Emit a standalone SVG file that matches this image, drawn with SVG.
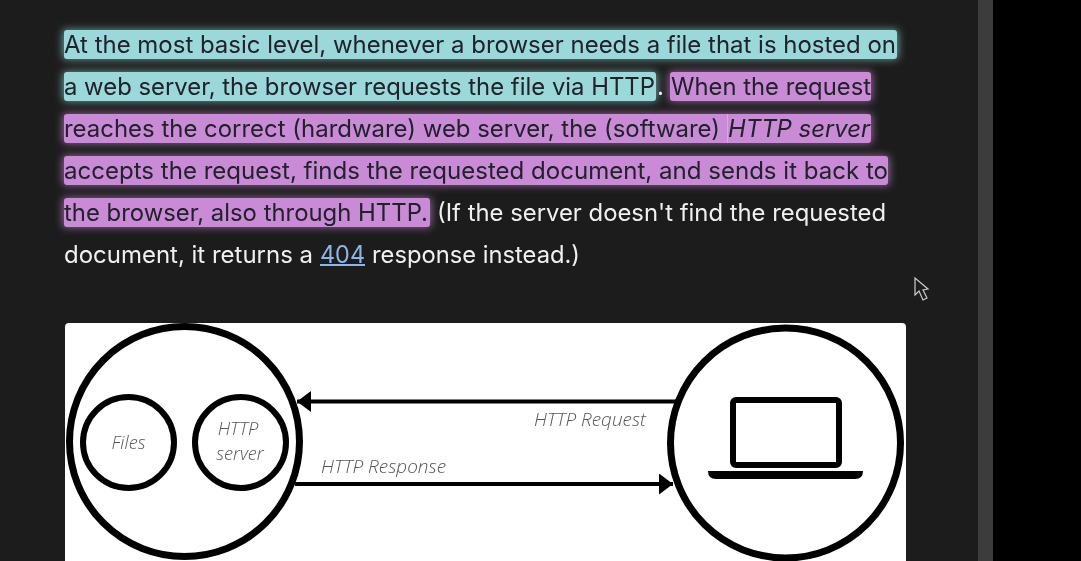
<svg xmlns="http://www.w3.org/2000/svg" width="1081" height="561" viewBox="0 0 1081 561">
<style>
.t{font-family:Inter,"Noto Sans","Liberation Sans",sans-serif;font-size:24px}
.d{fill:#20202c}
.w{fill:#f0f0f0}
.b{fill:#9bd8da}
.p{fill:#ca8bd6}
.ln{fill:none;stroke:#000;stroke-width:7}
.sm{fill:none;stroke:#000;stroke-width:6}
.c{stroke:#000;stroke-width:4;fill:none}
.l{font-family:"Open Sans","Noto Sans",sans-serif;font-style:italic;font-weight:300;font-size:18.300px;fill:#555}
</style>
<defs>
<filter id="glow" x="-5%" y="-60%" width="110%" height="220%"><feGaussianBlur stdDeviation="4.500"/></filter>
<filter id="soft" x="-2%" y="-5%" width="104%" height="110%"><feGaussianBlur stdDeviation="0.500"/></filter>
<filter id="soft2" x="-2%" y="-5%" width="104%" height="110%"><feGaussianBlur stdDeviation="0.400"/></filter>
<marker id="ah" markerUnits="userSpaceOnUse" markerWidth="15" markerHeight="21" refX="14" refY="10.500" orient="auto"><path d="M0 0L14 10.500L0 21Z" fill="#000"/></marker>
</defs>
<rect width="1081" height="561" fill="#1c1c1c"/>
<rect x="978" width="15" height="561" fill="#3c3c3c"/>
<rect x="993" width="88" height="561" fill="#000"/>
<g id="highlights">
<g filter="url(#glow)" opacity=".7">
<rect class="b" x="63" y="30" width="835" height="29"/><rect class="b" x="63" y="72" width="594" height="29"/>
<rect class="p" x="669" y="72" width="203" height="29"/><rect class="p" x="63" y="114" width="809" height="29"/>
<rect class="p" x="63" y="156" width="826" height="29"/><rect class="p" x="63" y="198" width="368" height="29"/>
</g>
<g filter="url(#soft2)">
<rect class="b" x="64" y="30" width="833" height="29" rx="3"/><rect class="b" x="64" y="72" width="592" height="29" rx="3"/>
<rect class="p" x="670" y="72" width="201" height="29" rx="3"/><rect class="p" x="64" y="114" width="807" height="29" rx="3"/>
<rect x="727" y="114" width="1" height="29" fill="#dca6e4"/>
<rect class="p" x="64" y="156" width="824" height="29" rx="3"/><rect class="p" x="64" y="198" width="366" height="29" rx="3"/>
</g>
</g>
<g id="paragraph" filter="url(#soft)">
<text class="t d" x="64" y="53" textLength="832" lengthAdjust="spacingAndGlyphs">At the most basic level, whenever a browser needs a file that is hosted on</text>
<text class="t d" x="64" y="95" textLength="591" lengthAdjust="spacingAndGlyphs">a web server, the browser requests the file via HTTP</text>
<text class="t w" x="657" y="95">.</text>
<text class="t d" x="671" y="95" textLength="200" lengthAdjust="spacingAndGlyphs">When the request</text>
<text class="t d" x="64" y="137" textLength="656" lengthAdjust="spacingAndGlyphs">reaches the correct (hardware) web server, the (software)</text>
<text class="t d" x="728" y="137" font-style="italic" textLength="142" lengthAdjust="spacingAndGlyphs">HTTP server</text>
<text class="t d" x="64" y="179" textLength="824" lengthAdjust="spacingAndGlyphs">accepts the request, finds the requested document, and sends it back to</text>
<text class="t d" x="64" y="221" textLength="364" lengthAdjust="spacingAndGlyphs">the browser, also through HTTP.</text>
<text class="t w" x="437" y="221" textLength="449" lengthAdjust="spacingAndGlyphs">(If the server doesn't find the requested</text>
<text class="t w" x="64" y="263" textLength="249" lengthAdjust="spacingAndGlyphs">document, it returns a</text>
<text class="t" fill="#8fb4e8" x="320" y="263" textLength="45" lengthAdjust="spacingAndGlyphs">404</text>
<rect x="320" y="264" width="45" height="2" fill="#8fb4e8"/>
<text class="t w" x="372" y="263" textLength="208" lengthAdjust="spacingAndGlyphs">response instead.)</text>
</g>
<path id="cursor" d="M915 278L915 295L919 291L923 300L927 298L923 290L928 289Z" fill="#1c1c1c" stroke="#ccc" stroke-width="1.200"/>
<rect id="panel" x="65" y="323" width="841" height="250" rx="4" fill="#fff"/>
<g filter="url(#soft2)">
<g id="connectors">
<path class="c" d="M676 401.500H297" marker-end="url(#ah)"/>
<path class="c" d="M295 484H673" marker-end="url(#ah)"/>
</g>
<g id="web-server">
<circle class="ln" cx="184.500" cy="441.500" r="115"/>
</g>
<g id="files"><circle class="sm" cx="128.500" cy="442.500" r="45.500"/><text class="l" x="128.500" y="449" text-anchor="middle">Files</text></g>
<g id="http-server"><circle class="sm" cx="240.500" cy="442.500" r="45.500"/><text class="l" x="238" y="435" text-anchor="middle">HTTP</text><text class="l" x="240" y="460" text-anchor="middle">server</text></g>
<g id="client">
<circle class="ln" cx="785.500" cy="443" r="115"/>
<rect class="sm" x="733" y="400" width="106" height="65" rx="3"/>
<path d="M708 471H863Q863 479 855 479H716Q708 479 708 471Z" fill="#000"/>
</g>
<text class="l" x="534" y="426" textLength="112" lengthAdjust="spacingAndGlyphs">HTTP Request</text>
<text class="l" x="321" y="473" textLength="125" lengthAdjust="spacingAndGlyphs">HTTP Response</text>
</g>
</svg>
